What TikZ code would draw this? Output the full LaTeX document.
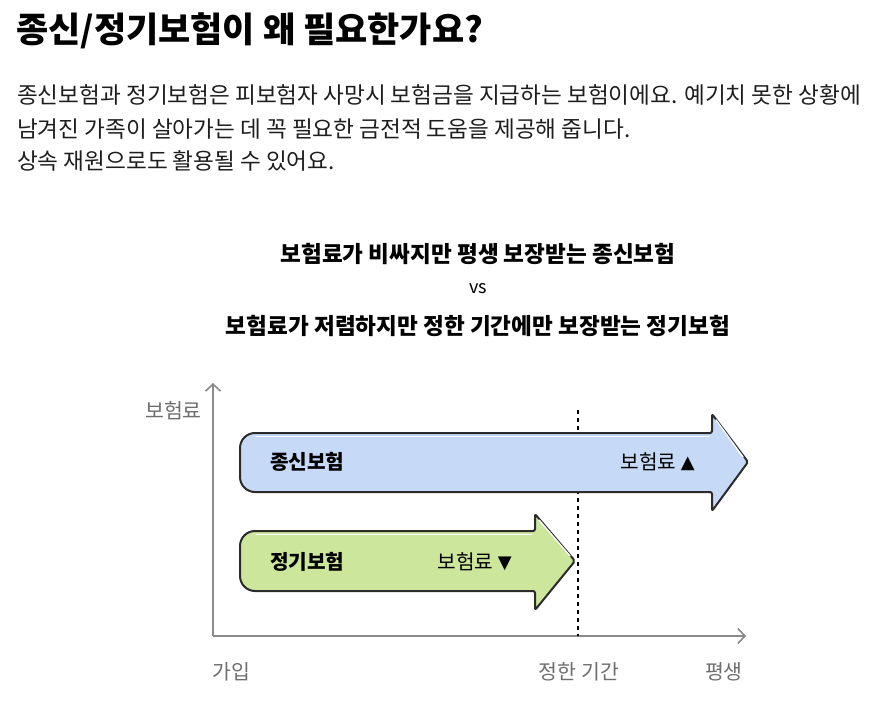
\documentclass[tikz,border=0pt]{standalone}
\usepackage{fontspec}
\setmainfont{Noto Sans CJK KR}
\newfontfamily\symf{DejaVu Sans}
\usetikzlibrary{arrows.meta}
\definecolor{bluefill}{HTML}{C6D9F7}
\definecolor{greenfill}{HTML}{CCE69C}
\definecolor{edgec}{HTML}{2B2B2B}
\definecolor{axisc}{HTML}{8A8A8A}
\definecolor{labelc}{HTML}{6E6E6E}
\definecolor{textc}{HTML}{1E1E1E}
\begin{document}
\begin{tikzpicture}[x=1pt,y=-1pt,
  txt/.style={inner sep=0pt,anchor=west,text=textc},
  titletxt/.style={inner sep=0pt,anchor=west,font=\fontsize{35}{38}\selectfont\bfseries,text=black},
  paratxt/.style={txt,font=\fontsize{22.6}{26}\selectfont},
  charttitle/.style={inner sep=0pt,font=\fontsize{22.6}{26}\selectfont\bfseries,text=black},
  axislabel/.style={inner sep=0pt,font=\fontsize{20.5}{23}\selectfont,text=labelc},
  boxname/.style={inner sep=0pt,anchor=west,font=\fontsize{20.2}{23}\selectfont\bfseries,text=black},
  boxnote/.style={inner sep=0pt,font=\fontsize{20.2}{23}\selectfont,text=black},
  axisline/.style={draw=axisc,line width=1.6pt,-{Straight Barb[length=7pt,width=15pt,line width=1.6pt]}},
  arrowshape/.style={draw=edgec,line width=2pt,line join=round},
  shine/.style={draw=white,line width=1.4pt,line cap=round},
  dotline/.style={draw=black,line width=1.6pt,dash pattern=on 4pt off 4pt}
]
\useasboundingbox (0,0) rectangle (872,708);

% heading and paragraph
\node[titletxt] (title) at (16,31) {종신/정기보험이 왜 필요한가요?};
\node[paratxt] (p1) at (17,95) {종신보험과 정기보험은 피보험자 사망시 보험금을 지급하는 보험이에요. 예기치 못한 상황에};
\node[paratxt] (p2) at (17,129) {남겨진 가족이 살아가는 데 꼭 필요한 금전적 도움을 제공해 줍니다.};
\node[paratxt] (p3) at (17,161) {상속 재원으로도 활용될 수 있어요.};

% chart title
\node[charttitle] (ct1) at (478,254) {보험료가 비싸지만 평생 보장받는 종신보험};
\node[inner sep=0pt,font=\fontsize{18}{20}\selectfont,text=black] (vs) at (478,289) {vs};
\node[charttitle] (ct2) at (478,326) {보험료가 저렴하지만 정한 기간에만 보장받는 정기보험};

% axes
\coordinate (origin) at (213,636);
\coordinate (ytip) at (213,383);
\coordinate (xtip) at (746,636);
\draw[axisline] (origin) -- (ytip);
\draw[axisline] (origin) -- (xtip);

% dashed period line
\coordinate (dtop) at (578,410);
\coordinate (dbot) at (578,636);
\draw[dotline] (dtop) -- (dbot);

% blue arrow (whole life)
\draw[arrowshape,fill=bluefill]
  (712,433) [rounded corners=2pt]-- (712,414) -- (748,462) -- (712,511) -- (712,492)
  [rounded corners=15pt]-- (240,492) -- (240,433) [rounded corners=2pt]-- cycle;
\draw[shine] (716,420) -- (743,457);
\draw[shine] (256,436.5) -- (709,436.5);

% green arrow (term)
\draw[arrowshape,fill=greenfill]
  (535,531) [rounded corners=2pt]-- (535,514) -- (575,561) -- (535,610) -- (535,591)
  [rounded corners=15pt]-- (240,591) -- (240,531) [rounded corners=2pt]-- cycle;
\draw[shine] (539,520) -- (570,556);
\draw[shine] (256,534.5) -- (532,534.5);

% labels in arrows
\node[boxname] (n1) at (270,462) {종신보험};
\node[boxnote,anchor=east] (n1p) at (695,462) {보험료 \raisebox{1.5pt}{\symf\fontsize{18}{20}\selectfont ▲}};
\node[boxname] (n2) at (270,562) {정기보험};
\node[boxnote,anchor=east] (n2p) at (512,562) {보험료 \raisebox{1.5pt}{\symf\fontsize{18}{20}\selectfont ▼}};

% axis labels
\node[axislabel,anchor=east] (ylab) at (202,411) {보험료};
\node[axislabel,anchor=west] (xl1) at (212,672) {가입};
\node[axislabel] (xl2) at (579,672) {정한 기간};
\node[axislabel,anchor=east] (xl3) at (743,672) {평생};
\end{tikzpicture}
\end{document}
